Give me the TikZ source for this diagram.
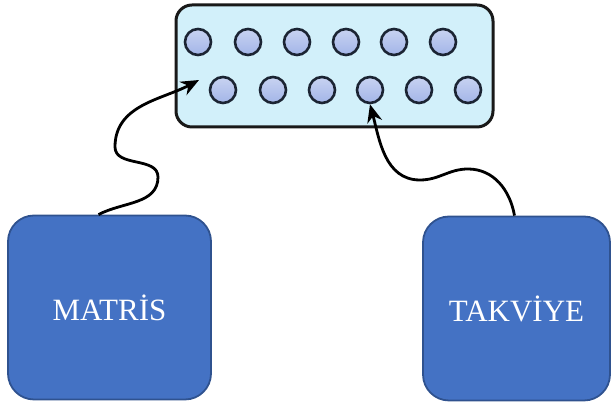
\documentclass[tikz,border=0pt]{standalone}
\usepackage{fontspec}
\setmainfont{Liberation Serif}
\usetikzlibrary{arrows.meta,calc}
\definecolor{boxblue}{HTML}{4472C4}
\definecolor{boxedge}{HTML}{2F528F}
\definecolor{matfill}{HTML}{D2F0FA}
\definecolor{ballfill}{HTML}{A3B5E8}
\definecolor{balledge}{HTML}{1B2433}
\tikzset{
  x=1pt,y=1pt,
  bigbox/.style={draw=boxedge,line width=1.8pt,fill=boxblue,rounded corners=26pt,
     minimum width=#1,minimum height=184pt,inner sep=0pt,text=white,
     font=\fontsize{31}{36}\selectfont},
  ball/.style={circle,draw=balledge,line width=2.6pt,minimum size=26pt,inner sep=0pt,
     top color=ballfill!60!white,bottom color=ballfill},
  link/.style={line width=2.8pt,-{Stealth[length=18pt,width=15pt]}}
}
\begin{document}
\begin{tikzpicture}
\useasboundingbox (0,0) rectangle (614,406);
% composite box
\node[draw=black!90,line width=3pt,fill=matfill,rounded corners=16pt,
      minimum width=317pt,minimum height=122pt,inner sep=0pt] (comp) at (334.5,340) {};
% balls
\foreach \i/\x in {1/198,2/248,3/297,4/346,5/394,6/443}
  \node[ball] (c\i) at (\x,364) {};
\foreach \i/\x in {7/223,8/273,9/322,10/370,11/419,12/468}
  \node[ball] (c\i) at (\x,316) {};
% blue boxes
\node[bigbox=203pt] (matris) at (109.5,98.5) {MATRİS};
\node[bigbox=187pt] (takviye) at (516.5,97.5) {TAKVİYE};
% connectors
\coordinate (t1) at (199,326);
\draw[link] ($(matris.north)+(-11,0)$) to[out=28,in=-90] (158,229)
            to[out=90,in=-90] (115,259) to[out=90,in=208] (t1);
\draw[link] ($(takviye.north)+(-2,0)$) to[out=100,in=0] (468,237)
            to[out=180,in=0] (420,226) to[out=180,in=-75] (c10.south);
\end{tikzpicture}
\end{document}
